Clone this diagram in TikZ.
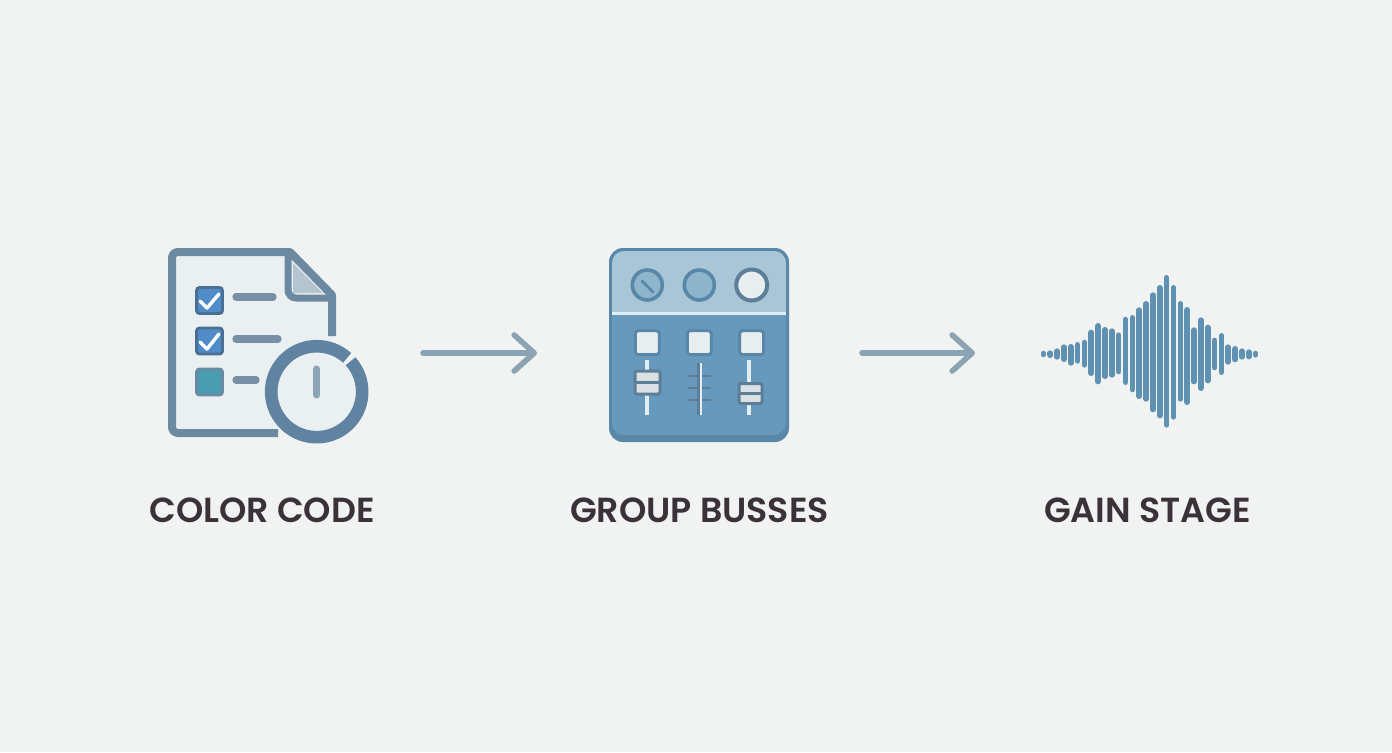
\documentclass[tikz,border=0pt]{standalone}
\usepackage{fontspec}
\setmainfont{Poppins}[BoldFont={Poppins SemiBold}]
\usetikzlibrary{arrows.meta}
\begin{document}
\begin{tikzpicture}[x=0.5pt, y=-0.5pt,
    every node/.style={font=\fontsize{17.4}{20}\selectfont\bfseries},
    steplabel/.style={text=labeltext, anchor=base, inner sep=0pt},
    flowarrow/.style={arrowgrey, line width=2.8pt, line cap=round,
      -{Straight Barb[round, length=10pt, width=18pt]}},
    checkbox/.style={draw=boxedge, fill=boxblue, line width=1.4pt, rounded corners=1.5pt,
      minimum size=13pt, inner sep=0pt},
    checkmark/.style={white, line width=1.7pt, line cap=round, line join=round},
    todoline/.style={lineblue, line width=3.6pt, line cap=round},
    solobox/.style={draw=mixedge, fill=mixlight, line width=1.5pt, rounded corners=1.5pt,
      minimum size=12pt, inner sep=0pt},
    fadertrack/.style={mixtrack, line width=2pt},
    faderknob/.style={draw=faderedge, fill=knobgrey, line width=1.5pt, rounded corners=1pt,
      minimum width=12.5pt, minimum height=11.5pt, inner sep=0pt}]
  \definecolor{paper}{RGB}{241,243,243}
  \definecolor{labeltext}{RGB}{58,50,56}
  \definecolor{arrowgrey}{RGB}{140,163,180}
  \definecolor{docedge}{RGB}{107,137,161}
  \definecolor{lineblue}{RGB}{120,144,165}
  \definecolor{docfill}{RGB}{234,239,241}
  \definecolor{foldfill}{RGB}{180,197,207}
  \definecolor{boxedge}{RGB}{74,111,146}
  \definecolor{boxblue}{RGB}{79,140,200}
  \definecolor{boxteal}{RGB}{74,157,176}
  \definecolor{ringblue}{RGB}{95,131,160}
  \definecolor{handgrey}{RGB}{140,165,183}
  \definecolor{mixedge}{RGB}{88,135,168}
  \definecolor{mixtop}{RGB}{169,198,214}
  \definecolor{mixbody}{RGB}{103,153,189}
  \definecolor{mixknob}{RGB}{143,181,204}
  \definecolor{mixlight}{RGB}{232,237,240}
  \definecolor{knobgrey}{RGB}{218,224,228}
  \definecolor{mixtrack}{RGB}{227,238,243}
  \definecolor{faderedge}{RGB}{92,126,151}
  \definecolor{wavebar}{RGB}{95,145,178}

  % page
  \fill[paper] (0,0) rectangle (1392,752);
  \useasboundingbox (0,0) rectangle (1392,752);

  % checklist page
  \fill[docfill] (172,252) -- (290,252) -- (332,295) -- (332,433) -- (172,433) -- cycle;
  \fill[foldfill] (293,263) -- (323,293) -- (293,293) -- cycle;
  \draw[docedge, line width=4pt, line join=round]
    (278,433) [rounded corners=3pt] -- (172,433) -- (172,252) [sharp corners] -- (290,252) -- (332,295) -- (332,336);
  \draw[docedge, line width=3.5pt, rounded corners=4pt] (288,252) -- (288,298) -- (332,298);
  \node[checkbox] (boxA) at (209.5,300.5) {};
  \node[checkbox] (boxB) at (209.5,341) {};
  \node[checkbox, fill=boxteal, draw=docedge] (boxC) at (209.5,382) {};
  \draw[checkmark] (200,301) -- (207,308) -- (219,294);
  \draw[checkmark] (200,342) -- (207,349) -- (219,334);
  \draw[todoline] (236,297) -- (273,297);
  \draw[todoline] (236,339) -- (278,339);
  \draw[todoline] (236,380) -- (256,380);

  % clock
  \fill[docfill] (316.7,391.7) circle[radius=40];
  \draw[ringblue, line width=6.3pt] (316.7,391.7) ++(-42:45.5) arc[start angle=-42, end angle=312, radius=45.5];
  \draw[handgrey, line width=3.5pt, line cap=round] (316.7,369) -- (316.7,395);

  % mixer
  \fill[rounded corners=7pt, mixedge] (609,248) rectangle (789,442);
  \fill[rounded corners=6pt, mixbody] (612,251) rectangle (786,435);
  \begin{scope}
    \clip[rounded corners=6pt] (612,251) rectangle (786,435);
    \fill[mixtop] (612,251) rectangle (786,313);
  \end{scope}
  \draw[mixtrack, line width=1.5pt] (612,313.5) -- (786,313.5);
  \foreach \kx in {647.3,699.3} {
    \draw[mixedge, fill=mixknob, line width=1.8pt] (\kx,285) circle[radius=15];
  }
  \draw[faderedge, fill=mixlight, line width=2pt] (751.7,285) circle[radius=15.5];
  \draw[mixedge, line width=1.4pt, line cap=round] (642,281) -- (653,292);
  \node[solobox] (soloA) at (647.3,342.7) {};
  \node[solobox] (soloB) at (699.3,342.7) {};
  \node[solobox] (soloC) at (751.7,342.7) {};

  % faders
  \draw[fadertrack] (647.3,360) -- (647.3,415);
  \node[faderknob] (faderA) at (647.5,382.5) {};
  \draw[faderedge, line width=1.2pt] (636,382.5) -- (659,382.5);
  \foreach \ty in {376,388,400} {
    \draw[faderedge, line width=1pt] (688,\ty) -- (711,\ty);
  }
  \draw[mixtrack, line width=2.5pt] (699,363) -- (699,415);
  \draw[faderedge, line width=1.6pt] (698.5,363) -- (698.5,415);
  \draw[fadertrack] (749,360) -- (749,415);
  \node[faderknob, minimum width=11.5pt, minimum height=10pt] (faderC) at (750.5,393.5) {};
  \draw[faderedge, line width=1.2pt] (740,393.5) -- (761,393.5);

  % waveform
  \foreach \i/\t/\b in {0/260/274,1/256/279,2/250/284,3/238/291,4/237/302,5/231/296,6/224/308,
      7/194/333,8/174/358,9/186/342,10/190/338,11/202/328,12/155/360,13/150/382,14/127/402,
      15/108/410,16/82/442,17/60/460,18/30/488,19/60/464,20/108/410,21/126/420,22/187/358,
      23/157/378,24/179/355,25/218/316,26/204/330,27/238/299,28/243/292,29/250/284,
      30/253/283,31/261/274} {
    \draw[wavebar, line width=2.8pt, line cap=round]
      (1043.3+6.85*\i,265+\t/3+2.8) -- (1043.3+6.85*\i,265+\b/3-2.8);
  }

  % arrows
  \coordinate (arrowAin) at (423,353);
  \coordinate (arrowAout) at (537,353);
  \coordinate (arrowBin) at (862,353);
  \coordinate (arrowBout) at (975,353);
  \draw[flowarrow] (arrowAin) -- (arrowAout);
  \draw[flowarrow] (arrowBin) -- (arrowBout);

  % labels
  \node[steplabel] (colorcode) at (262,522) {COLOR CODE};
  \node[steplabel] (groupbusses) at (699.5,522) {GROUP BUSSES};
  \node[steplabel] (gainstage) at (1147.5,522) {GAIN STAGE};
\end{tikzpicture}
\end{document}
